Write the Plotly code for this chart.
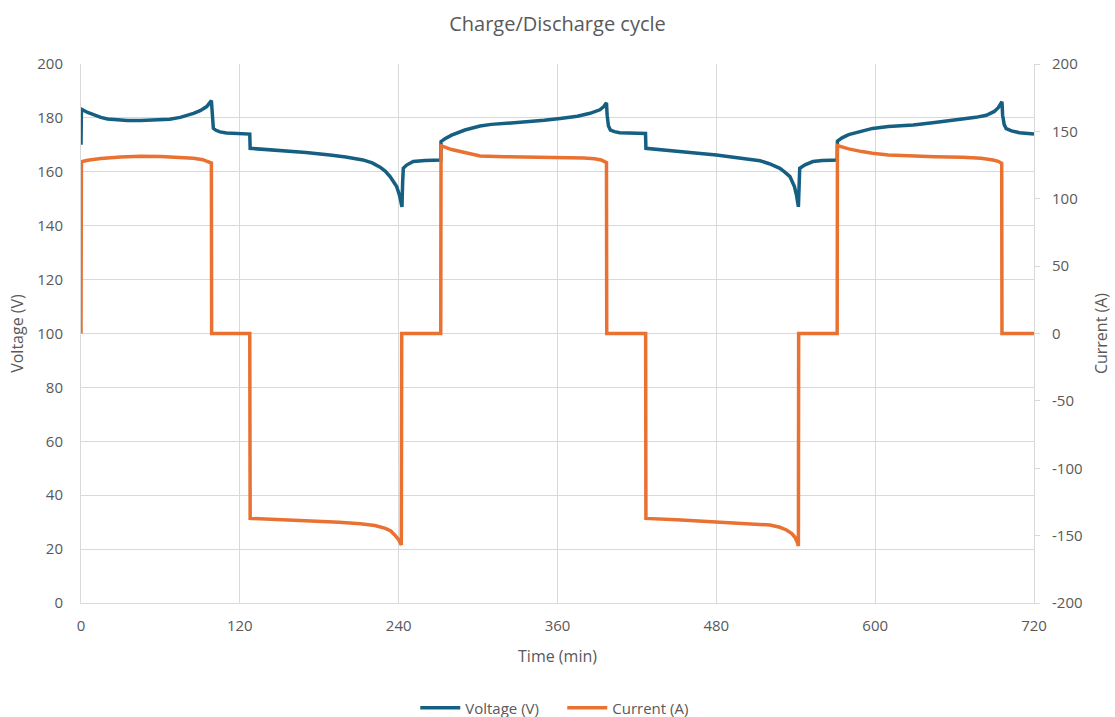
import plotly.graph_objects as go

# ---- Data ----
voltage_time = [
    0, 0.3, 5, 10, 15, 20, 27, 35, 45, 55, 67, 75, 80, 85, 90, 95, 98.5, 99, 100, 102, 105, 110, 127.5,
    127.8, 140, 150, 170, 188, 200, 213, 220, 226, 230, 233.5, 236, 238.5, 240.5, 242.5,
    243, 243.5, 246, 251, 260, 271.8,
    272, 275, 280, 290, 301.5, 310, 325, 339, 350, 362, 375, 384.6, 392, 395, 397,
    397.5, 398.5, 400, 403, 407, 426.5,
    426.8, 440, 460, 480, 500, 513, 520, 528, 532, 535.6, 539, 540.5, 542,
    542.5, 543, 547, 553, 560, 571.3,
    571.5, 575, 580, 590, 598, 610, 628.7, 645, 666, 676, 684, 690, 693, 695.8,
    696.3, 697.5, 699, 703, 709, 720,
]
voltage_values = [
    170, 183.2, 182, 181, 180.2, 179.6, 179.2, 179, 179, 179.1, 179.5, 180.2, 180.8, 181.7, 182.7, 184.2, 186.4, 181, 176.1, 175.4, 174.8, 174.4, 174,
    168.7, 168.3, 168.1, 167.2, 166.2, 165.5, 164.4, 163.3, 161.7, 160.2, 158.2, 156.6, 154.5, 151.5, 147,
    156, 161.3, 162.5, 163.8, 164.2, 164.4,
    171.2, 172.3, 173.6, 175.5, 177, 177.6, 178.1, 178.6, 179.1, 179.8, 180.6, 181.7, 183, 184.2, 185.6,
    181, 177, 175.5, 174.9, 174.5, 174.2,
    168.7, 168.2, 167.2, 166.2, 165, 164.1, 163, 161.3, 159.8, 158.2, 154.5, 151.5, 147,
    156, 161.3, 162.6, 163.8, 164.2, 164.4,
    171.4, 172.6, 173.8, 175.2, 176.1, 176.8, 177.4, 178.3, 179.5, 180.2, 181, 182.4, 183.8, 186,
    181, 177.5, 176, 175.2, 174.5, 174,
]

current_time = [
    0, 0.3, 5, 15, 30, 45, 60, 75, 85, 92, 96, 98.5, 98.7, 127.5,
    127.8, 150, 173, 195, 211, 222, 230, 234, 237, 240, 242, 242.3, 271.8,
    272, 280, 290, 301.5, 320, 340, 362, 380, 388, 393, 397, 397.2, 426.6,
    426.8, 450, 479, 500, 520.6, 528, 533, 537, 539.4, 541, 542, 542.2, 571.3,
    571.5, 580, 590, 598, 610, 628.7, 645, 666, 680, 689, 693, 695.6, 695.8, 720,
]
current_values = [
    0, 127.5, 128.5, 129.8, 131, 131.5, 131.3, 130.6, 130, 129, 127.8, 126.5, 0, 0,
    -137.2, -138, -139, -140, -141.2, -142.5, -144.6, -146.5, -149.5, -153, -157, 0, 0,
    139.4, 136.5, 134, 131.7, 131.2, 131, 130.8, 130.2, 129.6, 128.8, 126.8, 0, 0,
    -137.2, -138.3, -139.7, -140.7, -142.1, -143.8, -145.8, -148.5, -151.2, -154.5, -157.7, 0, 0,
    139.4, 137, 135, 133.7, 132.5, 131.7, 131.2, 130.8, 130, 128.8, 127.8, 126.3, 0, 0,
]

x_ticks = [0, 120, 240, 360, 480, 600, 720]
v_ticks = list(range(0, 201, 20))
i_ticks = list(range(-200, 201, 50))

VOLT_COLOR = "#156082"
CURR_COLOR = "#E97132"
GRID = "#D9D9D9"
TEXT = "#595959"
FONT = "Open Sans"

fig = go.Figure()
fig.add_trace(go.Scatter(
    x=voltage_time, y=voltage_values, mode="lines", name="Voltage (V)",
    line=dict(color=VOLT_COLOR, width=3.5), yaxis="y",
))
fig.add_trace(go.Scatter(
    x=current_time, y=current_values, mode="lines", name="Current (A)",
    line=dict(color=CURR_COLOR, width=3.5), yaxis="y2",
))

fig.update_layout(
    width=1115, height=717,
    margin=dict(l=81, r=81, t=64, b=114),
    paper_bgcolor="white", plot_bgcolor="white",
    font=dict(family=FONT, size=15, color=TEXT),
    title=dict(text="Charge/Discharge cycle", x=0.5, xanchor="center", y=0.966, yanchor="middle",
               font=dict(family=FONT, size=20, color=TEXT)),
    showlegend=True,
    legend=dict(orientation="h", x=0.505, xanchor="center", yref="container", y=0.0126, yanchor="middle",
                font=dict(family=FONT, size=15, color=TEXT), itemwidth=40, tracegroupgap=0,
                entrywidth=92, entrywidthmode="pixels"),
    xaxis=dict(
        range=[0, 720], tickvals=x_ticks, ticktext=[str(t) for t in x_ticks],
        showgrid=True, gridcolor=GRID, gridwidth=1, showline=True, linecolor=GRID, linewidth=1,
        zeroline=False, ticks="", ticklabelstandoff=9, automargin=False,
        title=dict(text="Time (min)", standoff=16, font=dict(size=16, color=TEXT)),
    ),
    yaxis=dict(
        range=[0, 200], tickvals=v_ticks, ticktext=[str(v) for v in v_ticks],
        showgrid=True, gridcolor=GRID, gridwidth=1, showline=True, linecolor=GRID, linewidth=1,
        zeroline=False, ticks="", ticklabelstandoff=14, automargin=False,
        title=dict(text="Voltage (V)", standoff=9, font=dict(size=16, color=TEXT)),
    ),
    yaxis2=dict(
        range=[-200, 200], tickvals=i_ticks, ticktext=[str(v) for v in i_ticks],
        overlaying="y", side="right", showgrid=False, showline=True, linecolor=GRID, linewidth=1,
        zeroline=False, ticks="outside", ticklen=5, tickcolor=GRID, ticklabelstandoff=9, automargin=False,
        title=dict(text="Current (A)", standoff=14, font=dict(size=16, color=TEXT)),
    ),
)

fig.write_html("out.html")
